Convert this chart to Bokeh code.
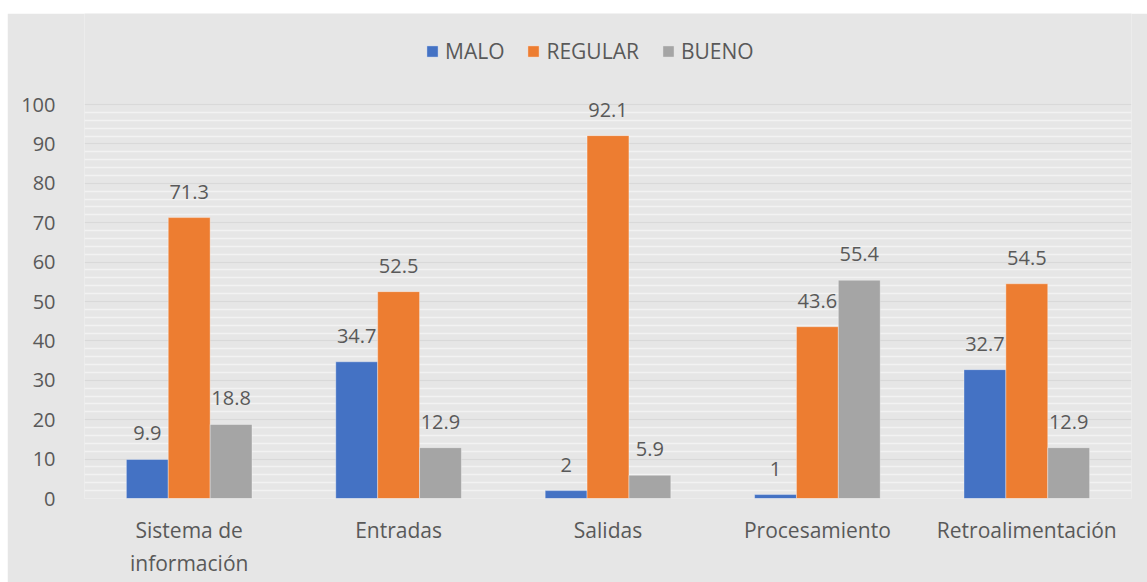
from bokeh.plotting import figure
from bokeh.models import ColumnDataSource, LabelSet, FixedTicker
from bokeh.transform import dodge
from bokeh.core.properties import value
from bokeh.embed import file_html
from bokeh.resources import INLINE

categories = ["Sistema de\ninformación", "Entradas", "Salidas", "Procesamiento", "Retroalimentación"]
malo = [9.9, 34.7, 2, 1, 32.7]
regular = [71.3, 52.5, 92.1, 43.6, 54.5]
bueno = [18.8, 12.9, 5.9, 55.4, 12.9]
series_names = ["MALO", "REGULAR", "BUENO"]
series_values = [malo, regular, bueno]
colors = ["#4472C4", "#ED7D31", "#A5A5A5"]
offsets = [-0.2, 0.0, 0.2]
major_ticks = [0, 10, 20, 30, 40, 50, 60, 70, 80, 90, 100]
minor_ticks = list(range(0, 101, 2))

FONT = "Open Sans"
TXT = "#595959"
BG = "#e6e6e6"

# frame spans from top of figure down to value 0; 0..100 occupies 394 px of 485 px
p = figure(x_range=categories, y_range=(0, 123.1), width=1140, height=569,
           output_backend="svg", toolbar_location=None,
           min_border_left=77, min_border_right=16, min_border_top=0, min_border_bottom=84)
p.margin = (13, 0, 0, 7)
p.background_fill_color = BG
p.border_fill_color = BG
p.outline_line_color = None

for name, vals, col, off in zip(series_names, series_values, colors, offsets):
    src = ColumnDataSource(dict(cat=categories, val=vals, lbl=[f"{v:g}" for v in vals]))
    p.vbar(x=dodge("cat", off, range=p.x_range), top="val", width=0.2, source=src,
           fill_color=col, line_color="#ffffff", line_alpha=0.35, line_width=1, legend_label=name)
    p.add_layout(LabelSet(x=dodge("cat", off, range=p.x_range), y="val", text="lbl", source=src,
                          text_align="center", text_baseline="alphabetic", y_offset=19,
                          text_font=value(FONT), text_font_size="20px", text_color=TXT))

p.yaxis.ticker = FixedTicker(ticks=major_ticks, minor_ticks=minor_ticks)
p.ygrid.grid_line_color = "#d9d9d9"
p.ygrid.grid_line_width = 1.5
p.ygrid.minor_grid_line_color = "#f2f2f2"
p.ygrid.minor_grid_line_width = 1.5
p.xgrid.grid_line_color = None

for ax in (p.xaxis, p.yaxis):
    ax.axis_line_color = None
    ax.major_tick_line_color = None
    ax.minor_tick_line_color = None
    ax.major_label_text_font = FONT
    ax.major_label_text_color = TXT
p.yaxis.major_label_text_font_size = "20px"
p.xaxis.major_label_text_font_size = "21px"
p.yaxis.major_label_standoff = 23
p.xaxis.major_label_standoff = 11

lg = p.legend[0]
lg.orientation = "horizontal"
lg.location = (341, 433)
lg.background_fill_alpha = 0
lg.border_line_color = None
lg.padding = 0
lg.margin = 0
lg.spacing = 22
lg.glyph_width = 14
lg.glyph_height = 14
lg.label_standoff = 6
lg.label_text_font = FONT
lg.label_text_font_size = "21px"
lg.label_text_color = TXT

open("out.html", "w").write(file_html(p, INLINE))
